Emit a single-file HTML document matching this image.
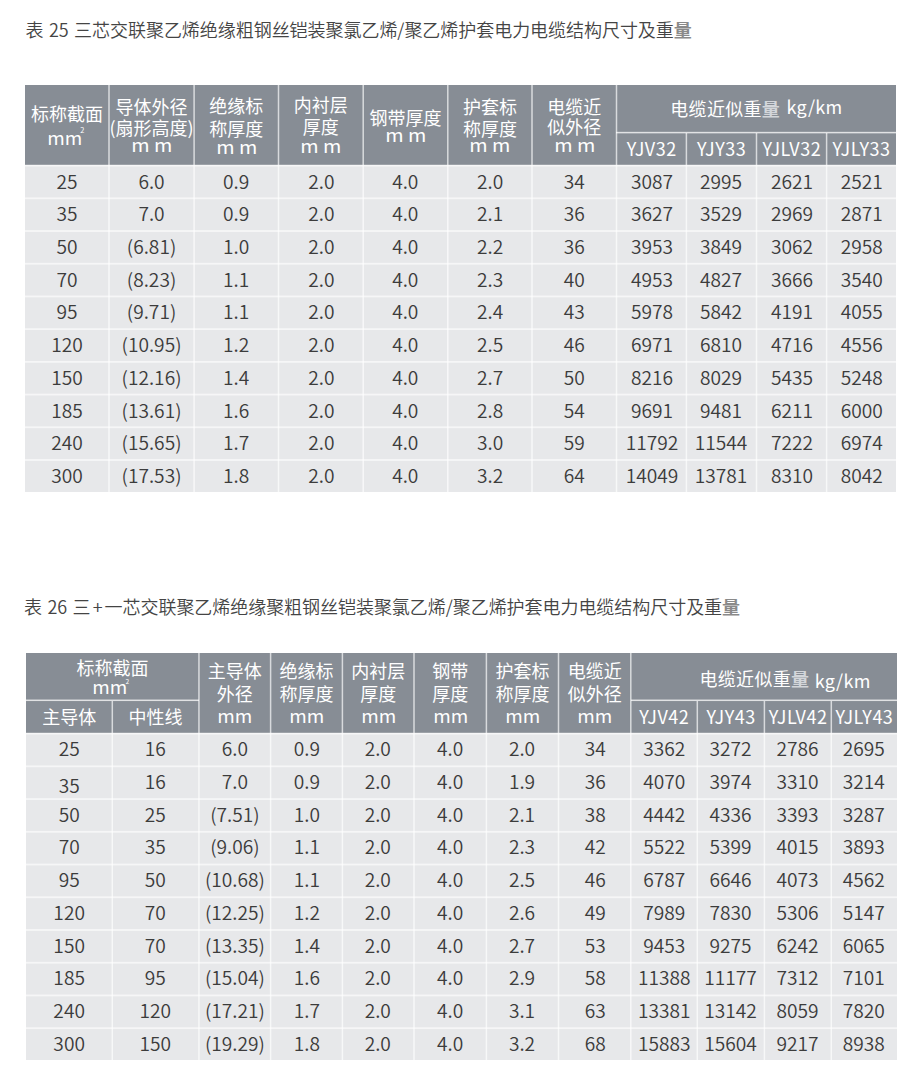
<!DOCTYPE html>
<html lang="zh-CN"><head><meta charset="utf-8"><title>电缆结构尺寸及重量</title>
<style>
html,body{margin:0;padding:0;background:#fff;}
body{width:920px;height:1085px;position:relative;overflow:hidden;font-family:"Noto Sans CJK SC", "Liberation Sans", sans-serif;}
.r{position:absolute;}
.t,.h{position:absolute;text-align:center;font-size:18px;line-height:26px;white-space:nowrap;}
.t{color:#3c3c3c;font-size:18.6px;font-weight:350;transform:scaleX(1.03);}
.h{color:#ffffff;}
.sx{display:inline-block;transform:scaleX(1.1);}
.sx2{display:inline-block;transform:scaleX(1.05);}
.lg{color:#d3d6da;font-weight:700;}
.sp{position:absolute;line-height:10px;color:#fff;white-space:nowrap;}
.title{position:absolute;font-size:18px;line-height:26px;color:#444;font-weight:350;white-space:nowrap;}
</style></head><body>
<div class="title" style="left:25.5px;top:16.2px;letter-spacing:-0.04px;word-spacing:1.5px">表 25 三芯交联聚乙烯绝缘粗钢丝铠装聚氯乙烯/聚乙烯护套电力电缆结构尺寸及重<span style="color:#8a8a8a;font-weight:700">量</span></div>
<div class="title" style="left:24px;top:592.9px;letter-spacing:-0.045px;word-spacing:1.5px">表 26 三<span style="margin:0 2.1px">+</span>一芯交联聚乙烯绝缘聚粗钢丝铠装聚氯乙烯/聚乙烯护套电力电缆结构尺寸及重<span style="color:#8a8a8a;font-weight:700">量</span></div>
<div class="r" style="left:25px;top:85px;width:871px;height:80px;background:#878d95"></div>
<div class="r" style="left:25px;top:165px;width:871px;height:327px;background:#e7e8ea"></div>
<div class="r" style="left:108px;top:85px;width:1px;height:407px;background:rgba(255,255,255,0.510)"></div>
<div class="r" style="left:109px;top:85px;width:1px;height:407px;background:rgba(255,255,255,0.510)"></div>
<div class="r" style="left:193px;top:85px;width:1px;height:407px;background:rgba(255,255,255,0.442)"></div>
<div class="r" style="left:194px;top:85px;width:1px;height:407px;background:rgba(255,255,255,0.578)"></div>
<div class="r" style="left:277px;top:85px;width:1px;height:407px;background:rgba(255,255,255,0.170)"></div>
<div class="r" style="left:278px;top:85px;width:1px;height:407px;background:rgba(255,255,255,0.680)"></div>
<div class="r" style="left:279px;top:85px;width:1px;height:407px;background:rgba(255,255,255,0.170)"></div>
<div class="r" style="left:362px;top:85px;width:1px;height:407px;background:rgba(255,255,255,0.374)"></div>
<div class="r" style="left:363px;top:85px;width:1px;height:407px;background:rgba(255,255,255,0.646)"></div>
<div class="r" style="left:447px;top:85px;width:1px;height:407px;background:rgba(255,255,255,0.646)"></div>
<div class="r" style="left:448px;top:85px;width:1px;height:407px;background:rgba(255,255,255,0.374)"></div>
<div class="r" style="left:531px;top:85px;width:1px;height:407px;background:rgba(255,255,255,0.510)"></div>
<div class="r" style="left:532px;top:85px;width:1px;height:407px;background:rgba(255,255,255,0.510)"></div>
<div class="r" style="left:615px;top:85px;width:1px;height:407px;background:rgba(255,255,255,0.170)"></div>
<div class="r" style="left:616px;top:85px;width:1px;height:407px;background:rgba(255,255,255,0.680)"></div>
<div class="r" style="left:617px;top:85px;width:1px;height:407px;background:rgba(255,255,255,0.170)"></div>
<div class="r" style="left:685px;top:133px;width:1px;height:359px;background:rgba(255,255,255,0.238)"></div>
<div class="r" style="left:686px;top:133px;width:1px;height:359px;background:rgba(255,255,255,0.680)"></div>
<div class="r" style="left:687px;top:133px;width:1px;height:359px;background:rgba(255,255,255,0.102)"></div>
<div class="r" style="left:755px;top:133px;width:1px;height:359px;background:rgba(255,255,255,0.170)"></div>
<div class="r" style="left:756px;top:133px;width:1px;height:359px;background:rgba(255,255,255,0.680)"></div>
<div class="r" style="left:757px;top:133px;width:1px;height:359px;background:rgba(255,255,255,0.170)"></div>
<div class="r" style="left:825px;top:133px;width:1px;height:359px;background:rgba(255,255,255,0.102)"></div>
<div class="r" style="left:826px;top:133px;width:1px;height:359px;background:rgba(255,255,255,0.680)"></div>
<div class="r" style="left:827px;top:133px;width:1px;height:359px;background:rgba(255,255,255,0.238)"></div>
<div class="r" style="left:616px;top:131px;width:280px;height:1px;background:rgba(255,255,255,0.113)"></div>
<div class="r" style="left:616px;top:132px;width:280px;height:1px;background:rgba(255,255,255,0.750)"></div>
<div class="r" style="left:616px;top:133px;width:280px;height:1px;background:rgba(255,255,255,0.262)"></div>
<div class="r" style="left:25px;top:164px;width:871px;height:1px;background:rgba(255,255,255,0.186)"></div>
<div class="r" style="left:25px;top:165px;width:871px;height:1px;background:rgba(255,255,255,0.620)"></div>
<div class="r" style="left:25px;top:166px;width:871px;height:1px;background:rgba(255,255,255,0.310)"></div>
<div class="r" style="left:25px;top:197px;width:871px;height:1px;background:rgba(255,255,255,0.366)"></div>
<div class="r" style="left:25px;top:198px;width:871px;height:1px;background:rgba(255,255,255,0.620)"></div>
<div class="r" style="left:25px;top:199px;width:871px;height:1px;background:rgba(255,255,255,0.130)"></div>
<div class="r" style="left:25px;top:230px;width:871px;height:1px;background:rgba(255,255,255,0.546)"></div>
<div class="r" style="left:25px;top:231px;width:871px;height:1px;background:rgba(255,255,255,0.570)"></div>
<div class="r" style="left:25px;top:262px;width:871px;height:1px;background:rgba(255,255,255,0.105)"></div>
<div class="r" style="left:25px;top:263px;width:871px;height:1px;background:rgba(255,255,255,0.620)"></div>
<div class="r" style="left:25px;top:264px;width:871px;height:1px;background:rgba(255,255,255,0.391)"></div>
<div class="r" style="left:25px;top:295px;width:871px;height:1px;background:rgba(255,255,255,0.285)"></div>
<div class="r" style="left:25px;top:296px;width:871px;height:1px;background:rgba(255,255,255,0.620)"></div>
<div class="r" style="left:25px;top:297px;width:871px;height:1px;background:rgba(255,255,255,0.211)"></div>
<div class="r" style="left:25px;top:328px;width:871px;height:1px;background:rgba(255,255,255,0.465)"></div>
<div class="r" style="left:25px;top:329px;width:871px;height:1px;background:rgba(255,255,255,0.620)"></div>
<div class="r" style="left:25px;top:330px;width:871px;height:1px;background:rgba(255,255,255,0.031)"></div>
<div class="r" style="left:25px;top:361px;width:871px;height:1px;background:rgba(255,255,255,0.620)"></div>
<div class="r" style="left:25px;top:362px;width:871px;height:1px;background:rgba(255,255,255,0.471)"></div>
<div class="r" style="left:25px;top:393px;width:871px;height:1px;background:rgba(255,255,255,0.205)"></div>
<div class="r" style="left:25px;top:394px;width:871px;height:1px;background:rgba(255,255,255,0.620)"></div>
<div class="r" style="left:25px;top:395px;width:871px;height:1px;background:rgba(255,255,255,0.291)"></div>
<div class="r" style="left:25px;top:426px;width:871px;height:1px;background:rgba(255,255,255,0.384)"></div>
<div class="r" style="left:25px;top:427px;width:871px;height:1px;background:rgba(255,255,255,0.620)"></div>
<div class="r" style="left:25px;top:428px;width:871px;height:1px;background:rgba(255,255,255,0.112)"></div>
<div class="r" style="left:25px;top:459px;width:871px;height:1px;background:rgba(255,255,255,0.564)"></div>
<div class="r" style="left:25px;top:460px;width:871px;height:1px;background:rgba(255,255,255,0.552)"></div>
<div class="r" style="left:26px;top:653px;width:871px;height:80px;background:#878d95"></div>
<div class="r" style="left:26px;top:733px;width:871px;height:327px;background:#e7e8ea"></div>
<div class="r" style="left:111px;top:701px;width:1px;height:359px;background:rgba(255,255,255,0.306)"></div>
<div class="r" style="left:112px;top:701px;width:1px;height:359px;background:rgba(255,255,255,0.680)"></div>
<div class="r" style="left:113px;top:701px;width:1px;height:359px;background:rgba(255,255,255,0.034)"></div>
<div class="r" style="left:198px;top:653px;width:1px;height:407px;background:rgba(255,255,255,0.544)"></div>
<div class="r" style="left:199px;top:653px;width:1px;height:407px;background:rgba(255,255,255,0.476)"></div>
<div class="r" style="left:269px;top:653px;width:1px;height:407px;background:rgba(255,255,255,0.102)"></div>
<div class="r" style="left:270px;top:653px;width:1px;height:407px;background:rgba(255,255,255,0.680)"></div>
<div class="r" style="left:271px;top:653px;width:1px;height:407px;background:rgba(255,255,255,0.238)"></div>
<div class="r" style="left:341px;top:653px;width:1px;height:407px;background:rgba(255,255,255,0.238)"></div>
<div class="r" style="left:342px;top:653px;width:1px;height:407px;background:rgba(255,255,255,0.680)"></div>
<div class="r" style="left:343px;top:653px;width:1px;height:407px;background:rgba(255,255,255,0.102)"></div>
<div class="r" style="left:413px;top:653px;width:1px;height:407px;background:rgba(255,255,255,0.510)"></div>
<div class="r" style="left:414px;top:653px;width:1px;height:407px;background:rgba(255,255,255,0.510)"></div>
<div class="r" style="left:485px;top:653px;width:1px;height:407px;background:rgba(255,255,255,0.238)"></div>
<div class="r" style="left:486px;top:653px;width:1px;height:407px;background:rgba(255,255,255,0.680)"></div>
<div class="r" style="left:487px;top:653px;width:1px;height:407px;background:rgba(255,255,255,0.102)"></div>
<div class="r" style="left:557px;top:653px;width:1px;height:407px;background:rgba(255,255,255,0.170)"></div>
<div class="r" style="left:558px;top:653px;width:1px;height:407px;background:rgba(255,255,255,0.680)"></div>
<div class="r" style="left:559px;top:653px;width:1px;height:407px;background:rgba(255,255,255,0.170)"></div>
<div class="r" style="left:630px;top:653px;width:1px;height:407px;background:rgba(255,255,255,0.646)"></div>
<div class="r" style="left:631px;top:653px;width:1px;height:407px;background:rgba(255,255,255,0.374)"></div>
<div class="r" style="left:696px;top:701px;width:1px;height:359px;background:rgba(255,255,255,0.306)"></div>
<div class="r" style="left:697px;top:701px;width:1px;height:359px;background:rgba(255,255,255,0.680)"></div>
<div class="r" style="left:698px;top:701px;width:1px;height:359px;background:rgba(255,255,255,0.034)"></div>
<div class="r" style="left:763px;top:701px;width:1px;height:359px;background:rgba(255,255,255,0.238)"></div>
<div class="r" style="left:764px;top:701px;width:1px;height:359px;background:rgba(255,255,255,0.680)"></div>
<div class="r" style="left:765px;top:701px;width:1px;height:359px;background:rgba(255,255,255,0.102)"></div>
<div class="r" style="left:830px;top:701px;width:1px;height:359px;background:rgba(255,255,255,0.306)"></div>
<div class="r" style="left:831px;top:701px;width:1px;height:359px;background:rgba(255,255,255,0.680)"></div>
<div class="r" style="left:832px;top:701px;width:1px;height:359px;background:rgba(255,255,255,0.034)"></div>
<div class="r" style="left:26px;top:699px;width:173px;height:1px;background:rgba(255,255,255,0.338)"></div>
<div class="r" style="left:26px;top:700px;width:173px;height:1px;background:rgba(255,255,255,0.750)"></div>
<div class="r" style="left:26px;top:701px;width:173px;height:1px;background:rgba(255,255,255,0.037)"></div>
<div class="r" style="left:631px;top:699px;width:266px;height:1px;background:rgba(255,255,255,0.338)"></div>
<div class="r" style="left:631px;top:700px;width:266px;height:1px;background:rgba(255,255,255,0.750)"></div>
<div class="r" style="left:631px;top:701px;width:266px;height:1px;background:rgba(255,255,255,0.037)"></div>
<div class="r" style="left:26px;top:732px;width:871px;height:1px;background:rgba(255,255,255,0.186)"></div>
<div class="r" style="left:26px;top:733px;width:871px;height:1px;background:rgba(255,255,255,0.620)"></div>
<div class="r" style="left:26px;top:734px;width:871px;height:1px;background:rgba(255,255,255,0.310)"></div>
<div class="r" style="left:26px;top:765px;width:871px;height:1px;background:rgba(255,255,255,0.353)"></div>
<div class="r" style="left:26px;top:766px;width:871px;height:1px;background:rgba(255,255,255,0.620)"></div>
<div class="r" style="left:26px;top:767px;width:871px;height:1px;background:rgba(255,255,255,0.143)"></div>
<div class="r" style="left:26px;top:798px;width:871px;height:1px;background:rgba(255,255,255,0.521)"></div>
<div class="r" style="left:26px;top:799px;width:871px;height:1px;background:rgba(255,255,255,0.595)"></div>
<div class="r" style="left:26px;top:830px;width:871px;height:1px;background:rgba(255,255,255,0.068)"></div>
<div class="r" style="left:26px;top:831px;width:871px;height:1px;background:rgba(255,255,255,0.620)"></div>
<div class="r" style="left:26px;top:832px;width:871px;height:1px;background:rgba(255,255,255,0.428)"></div>
<div class="r" style="left:26px;top:863px;width:871px;height:1px;background:rgba(255,255,255,0.236)"></div>
<div class="r" style="left:26px;top:864px;width:871px;height:1px;background:rgba(255,255,255,0.620)"></div>
<div class="r" style="left:26px;top:865px;width:871px;height:1px;background:rgba(255,255,255,0.260)"></div>
<div class="r" style="left:26px;top:896px;width:871px;height:1px;background:rgba(255,255,255,0.403)"></div>
<div class="r" style="left:26px;top:897px;width:871px;height:1px;background:rgba(255,255,255,0.620)"></div>
<div class="r" style="left:26px;top:898px;width:871px;height:1px;background:rgba(255,255,255,0.093)"></div>
<div class="r" style="left:26px;top:929px;width:871px;height:1px;background:rgba(255,255,255,0.570)"></div>
<div class="r" style="left:26px;top:930px;width:871px;height:1px;background:rgba(255,255,255,0.546)"></div>
<div class="r" style="left:26px;top:961px;width:871px;height:1px;background:rgba(255,255,255,0.118)"></div>
<div class="r" style="left:26px;top:962px;width:871px;height:1px;background:rgba(255,255,255,0.620)"></div>
<div class="r" style="left:26px;top:963px;width:871px;height:1px;background:rgba(255,255,255,0.378)"></div>
<div class="r" style="left:26px;top:994px;width:871px;height:1px;background:rgba(255,255,255,0.285)"></div>
<div class="r" style="left:26px;top:995px;width:871px;height:1px;background:rgba(255,255,255,0.620)"></div>
<div class="r" style="left:26px;top:996px;width:871px;height:1px;background:rgba(255,255,255,0.211)"></div>
<div class="r" style="left:26px;top:1027px;width:871px;height:1px;background:rgba(255,255,255,0.453)"></div>
<div class="r" style="left:26px;top:1028px;width:871px;height:1px;background:rgba(255,255,255,0.620)"></div>
<div class="r" style="left:26px;top:1029px;width:871px;height:1px;background:rgba(255,255,255,0.043)"></div>
<div class="t" style="left:25.0px;top:167.6px;width:84.0px;">25</div>
<div class="t" style="left:109.0px;top:167.6px;width:85.1px;">6.0</div>
<div class="t" style="left:194.1px;top:167.6px;width:84.4px;">0.9</div>
<div class="t" style="left:278.5px;top:167.6px;width:84.7px;">2.0</div>
<div class="t" style="left:363.2px;top:167.6px;width:84.6px;">4.0</div>
<div class="t" style="left:447.8px;top:167.6px;width:84.2px;">2.0</div>
<div class="t" style="left:532.0px;top:167.6px;width:84.5px;">34</div>
<div class="t" style="left:616.5px;top:167.6px;width:69.9px;">3087</div>
<div class="t" style="left:686.4px;top:167.6px;width:70.1px;">2995</div>
<div class="t" style="left:756.5px;top:167.6px;width:70.1px;">2621</div>
<div class="t" style="left:826.6px;top:167.6px;width:69.4px;">2521</div>
<div class="t" style="left:25.0px;top:200.3px;width:84.0px;">35</div>
<div class="t" style="left:109.0px;top:200.3px;width:85.1px;">7.0</div>
<div class="t" style="left:194.1px;top:200.3px;width:84.4px;">0.9</div>
<div class="t" style="left:278.5px;top:200.3px;width:84.7px;">2.0</div>
<div class="t" style="left:363.2px;top:200.3px;width:84.6px;">4.0</div>
<div class="t" style="left:447.8px;top:200.3px;width:84.2px;">2.1</div>
<div class="t" style="left:532.0px;top:200.3px;width:84.5px;">36</div>
<div class="t" style="left:616.5px;top:200.3px;width:69.9px;">3627</div>
<div class="t" style="left:686.4px;top:200.3px;width:70.1px;">3529</div>
<div class="t" style="left:756.5px;top:200.3px;width:70.1px;">2969</div>
<div class="t" style="left:826.6px;top:200.3px;width:69.4px;">2871</div>
<div class="t" style="left:25.0px;top:233.0px;width:84.0px;">50</div>
<div class="t" style="left:109.0px;top:233.0px;width:85.1px;">(6.81)</div>
<div class="t" style="left:194.1px;top:233.0px;width:84.4px;">1.0</div>
<div class="t" style="left:278.5px;top:233.0px;width:84.7px;">2.0</div>
<div class="t" style="left:363.2px;top:233.0px;width:84.6px;">4.0</div>
<div class="t" style="left:447.8px;top:233.0px;width:84.2px;">2.2</div>
<div class="t" style="left:532.0px;top:233.0px;width:84.5px;">36</div>
<div class="t" style="left:616.5px;top:233.0px;width:69.9px;">3953</div>
<div class="t" style="left:686.4px;top:233.0px;width:70.1px;">3849</div>
<div class="t" style="left:756.5px;top:233.0px;width:70.1px;">3062</div>
<div class="t" style="left:826.6px;top:233.0px;width:69.4px;">2958</div>
<div class="t" style="left:25.0px;top:265.7px;width:84.0px;">70</div>
<div class="t" style="left:109.0px;top:265.7px;width:85.1px;">(8.23)</div>
<div class="t" style="left:194.1px;top:265.7px;width:84.4px;">1.1</div>
<div class="t" style="left:278.5px;top:265.7px;width:84.7px;">2.0</div>
<div class="t" style="left:363.2px;top:265.7px;width:84.6px;">4.0</div>
<div class="t" style="left:447.8px;top:265.7px;width:84.2px;">2.3</div>
<div class="t" style="left:532.0px;top:265.7px;width:84.5px;">40</div>
<div class="t" style="left:616.5px;top:265.7px;width:69.9px;">4953</div>
<div class="t" style="left:686.4px;top:265.7px;width:70.1px;">4827</div>
<div class="t" style="left:756.5px;top:265.7px;width:70.1px;">3666</div>
<div class="t" style="left:826.6px;top:265.7px;width:69.4px;">3540</div>
<div class="t" style="left:25.0px;top:298.4px;width:84.0px;">95</div>
<div class="t" style="left:109.0px;top:298.4px;width:85.1px;">(9.71)</div>
<div class="t" style="left:194.1px;top:298.4px;width:84.4px;">1.1</div>
<div class="t" style="left:278.5px;top:298.4px;width:84.7px;">2.0</div>
<div class="t" style="left:363.2px;top:298.4px;width:84.6px;">4.0</div>
<div class="t" style="left:447.8px;top:298.4px;width:84.2px;">2.4</div>
<div class="t" style="left:532.0px;top:298.4px;width:84.5px;">43</div>
<div class="t" style="left:616.5px;top:298.4px;width:69.9px;">5978</div>
<div class="t" style="left:686.4px;top:298.4px;width:70.1px;">5842</div>
<div class="t" style="left:756.5px;top:298.4px;width:70.1px;">4191</div>
<div class="t" style="left:826.6px;top:298.4px;width:69.4px;">4055</div>
<div class="t" style="left:25.0px;top:331.1px;width:84.0px;">120</div>
<div class="t" style="left:109.0px;top:331.1px;width:85.1px;">(10.95)</div>
<div class="t" style="left:194.1px;top:331.1px;width:84.4px;">1.2</div>
<div class="t" style="left:278.5px;top:331.1px;width:84.7px;">2.0</div>
<div class="t" style="left:363.2px;top:331.1px;width:84.6px;">4.0</div>
<div class="t" style="left:447.8px;top:331.1px;width:84.2px;">2.5</div>
<div class="t" style="left:532.0px;top:331.1px;width:84.5px;">46</div>
<div class="t" style="left:616.5px;top:331.1px;width:69.9px;">6971</div>
<div class="t" style="left:686.4px;top:331.1px;width:70.1px;">6810</div>
<div class="t" style="left:756.5px;top:331.1px;width:70.1px;">4716</div>
<div class="t" style="left:826.6px;top:331.1px;width:69.4px;">4556</div>
<div class="t" style="left:25.0px;top:363.9px;width:84.0px;">150</div>
<div class="t" style="left:109.0px;top:363.9px;width:85.1px;">(12.16)</div>
<div class="t" style="left:194.1px;top:363.9px;width:84.4px;">1.4</div>
<div class="t" style="left:278.5px;top:363.9px;width:84.7px;">2.0</div>
<div class="t" style="left:363.2px;top:363.9px;width:84.6px;">4.0</div>
<div class="t" style="left:447.8px;top:363.9px;width:84.2px;">2.7</div>
<div class="t" style="left:532.0px;top:363.9px;width:84.5px;">50</div>
<div class="t" style="left:616.5px;top:363.9px;width:69.9px;">8216</div>
<div class="t" style="left:686.4px;top:363.9px;width:70.1px;">8029</div>
<div class="t" style="left:756.5px;top:363.9px;width:70.1px;">5435</div>
<div class="t" style="left:826.6px;top:363.9px;width:69.4px;">5248</div>
<div class="t" style="left:25.0px;top:396.6px;width:84.0px;">185</div>
<div class="t" style="left:109.0px;top:396.6px;width:85.1px;">(13.61)</div>
<div class="t" style="left:194.1px;top:396.6px;width:84.4px;">1.6</div>
<div class="t" style="left:278.5px;top:396.6px;width:84.7px;">2.0</div>
<div class="t" style="left:363.2px;top:396.6px;width:84.6px;">4.0</div>
<div class="t" style="left:447.8px;top:396.6px;width:84.2px;">2.8</div>
<div class="t" style="left:532.0px;top:396.6px;width:84.5px;">54</div>
<div class="t" style="left:616.5px;top:396.6px;width:69.9px;">9691</div>
<div class="t" style="left:686.4px;top:396.6px;width:70.1px;">9481</div>
<div class="t" style="left:756.5px;top:396.6px;width:70.1px;">6211</div>
<div class="t" style="left:826.6px;top:396.6px;width:69.4px;">6000</div>
<div class="t" style="left:25.0px;top:429.3px;width:84.0px;">240</div>
<div class="t" style="left:109.0px;top:429.3px;width:85.1px;">(15.65)</div>
<div class="t" style="left:194.1px;top:429.3px;width:84.4px;">1.7</div>
<div class="t" style="left:278.5px;top:429.3px;width:84.7px;">2.0</div>
<div class="t" style="left:363.2px;top:429.3px;width:84.6px;">4.0</div>
<div class="t" style="left:447.8px;top:429.3px;width:84.2px;">3.0</div>
<div class="t" style="left:532.0px;top:429.3px;width:84.5px;">59</div>
<div class="t" style="left:616.5px;top:429.3px;width:69.9px;">11792</div>
<div class="t" style="left:686.4px;top:429.3px;width:70.1px;">11544</div>
<div class="t" style="left:756.5px;top:429.3px;width:70.1px;">7222</div>
<div class="t" style="left:826.6px;top:429.3px;width:69.4px;">6974</div>
<div class="t" style="left:25.0px;top:462.0px;width:84.0px;">300</div>
<div class="t" style="left:109.0px;top:462.0px;width:85.1px;">(17.53)</div>
<div class="t" style="left:194.1px;top:462.0px;width:84.4px;">1.8</div>
<div class="t" style="left:278.5px;top:462.0px;width:84.7px;">2.0</div>
<div class="t" style="left:363.2px;top:462.0px;width:84.6px;">4.0</div>
<div class="t" style="left:447.8px;top:462.0px;width:84.2px;">3.2</div>
<div class="t" style="left:532.0px;top:462.0px;width:84.5px;">64</div>
<div class="t" style="left:616.5px;top:462.0px;width:69.9px;">14049</div>
<div class="t" style="left:686.4px;top:462.0px;width:70.1px;">13781</div>
<div class="t" style="left:756.5px;top:462.0px;width:70.1px;">8310</div>
<div class="t" style="left:826.6px;top:462.0px;width:69.4px;">8042</div>
<div class="t" style="left:26.0px;top:735.2px;width:86.3px;">25</div>
<div class="t" style="left:112.3px;top:735.2px;width:86.6px;">16</div>
<div class="t" style="left:198.9px;top:735.2px;width:71.7px;">6.0</div>
<div class="t" style="left:270.6px;top:735.2px;width:71.8px;">0.9</div>
<div class="t" style="left:342.4px;top:735.2px;width:71.6px;">2.0</div>
<div class="t" style="left:414.0px;top:735.2px;width:72.4px;">4.0</div>
<div class="t" style="left:486.4px;top:735.2px;width:72.1px;">2.0</div>
<div class="t" style="left:558.5px;top:735.2px;width:72.3px;">34</div>
<div class="t" style="left:630.8px;top:735.2px;width:66.5px;">3362</div>
<div class="t" style="left:697.3px;top:735.2px;width:67.1px;">3272</div>
<div class="t" style="left:764.4px;top:735.2px;width:66.9px;">2786</div>
<div class="t" style="left:831.3px;top:735.2px;width:65.7px;">2695</div>
<div class="t" style="left:26.0px;top:771.8px;width:86.3px;">35</div>
<div class="t" style="left:112.3px;top:767.9px;width:86.6px;">16</div>
<div class="t" style="left:198.9px;top:767.9px;width:71.7px;">7.0</div>
<div class="t" style="left:270.6px;top:767.9px;width:71.8px;">0.9</div>
<div class="t" style="left:342.4px;top:767.9px;width:71.6px;">2.0</div>
<div class="t" style="left:414.0px;top:767.9px;width:72.4px;">4.0</div>
<div class="t" style="left:486.4px;top:767.9px;width:72.1px;">1.9</div>
<div class="t" style="left:558.5px;top:767.9px;width:72.3px;">36</div>
<div class="t" style="left:630.8px;top:767.9px;width:66.5px;">4070</div>
<div class="t" style="left:697.3px;top:767.9px;width:67.1px;">3974</div>
<div class="t" style="left:764.4px;top:767.9px;width:66.9px;">3310</div>
<div class="t" style="left:831.3px;top:767.9px;width:65.7px;">3214</div>
<div class="t" style="left:26.0px;top:800.7px;width:86.3px;">50</div>
<div class="t" style="left:112.3px;top:800.7px;width:86.6px;">25</div>
<div class="t" style="left:198.9px;top:800.7px;width:71.7px;">(7.51)</div>
<div class="t" style="left:270.6px;top:800.7px;width:71.8px;">1.0</div>
<div class="t" style="left:342.4px;top:800.7px;width:71.6px;">2.0</div>
<div class="t" style="left:414.0px;top:800.7px;width:72.4px;">4.0</div>
<div class="t" style="left:486.4px;top:800.7px;width:72.1px;">2.1</div>
<div class="t" style="left:558.5px;top:800.7px;width:72.3px;">38</div>
<div class="t" style="left:630.8px;top:800.7px;width:66.5px;">4442</div>
<div class="t" style="left:697.3px;top:800.7px;width:67.1px;">4336</div>
<div class="t" style="left:764.4px;top:800.7px;width:66.9px;">3393</div>
<div class="t" style="left:831.3px;top:800.7px;width:65.7px;">3287</div>
<div class="t" style="left:26.0px;top:833.4px;width:86.3px;">70</div>
<div class="t" style="left:112.3px;top:833.4px;width:86.6px;">35</div>
<div class="t" style="left:198.9px;top:833.4px;width:71.7px;">(9.06)</div>
<div class="t" style="left:270.6px;top:833.4px;width:71.8px;">1.1</div>
<div class="t" style="left:342.4px;top:833.4px;width:71.6px;">2.0</div>
<div class="t" style="left:414.0px;top:833.4px;width:72.4px;">4.0</div>
<div class="t" style="left:486.4px;top:833.4px;width:72.1px;">2.3</div>
<div class="t" style="left:558.5px;top:833.4px;width:72.3px;">42</div>
<div class="t" style="left:630.8px;top:833.4px;width:66.5px;">5522</div>
<div class="t" style="left:697.3px;top:833.4px;width:67.1px;">5399</div>
<div class="t" style="left:764.4px;top:833.4px;width:66.9px;">4015</div>
<div class="t" style="left:831.3px;top:833.4px;width:65.7px;">3893</div>
<div class="t" style="left:26.0px;top:866.1px;width:86.3px;">95</div>
<div class="t" style="left:112.3px;top:866.1px;width:86.6px;">50</div>
<div class="t" style="left:198.9px;top:866.1px;width:71.7px;">(10.68)</div>
<div class="t" style="left:270.6px;top:866.1px;width:71.8px;">1.1</div>
<div class="t" style="left:342.4px;top:866.1px;width:71.6px;">2.0</div>
<div class="t" style="left:414.0px;top:866.1px;width:72.4px;">4.0</div>
<div class="t" style="left:486.4px;top:866.1px;width:72.1px;">2.5</div>
<div class="t" style="left:558.5px;top:866.1px;width:72.3px;">46</div>
<div class="t" style="left:630.8px;top:866.1px;width:66.5px;">6787</div>
<div class="t" style="left:697.3px;top:866.1px;width:67.1px;">6646</div>
<div class="t" style="left:764.4px;top:866.1px;width:66.9px;">4073</div>
<div class="t" style="left:831.3px;top:866.1px;width:65.7px;">4562</div>
<div class="t" style="left:26.0px;top:898.9px;width:86.3px;">120</div>
<div class="t" style="left:112.3px;top:898.9px;width:86.6px;">70</div>
<div class="t" style="left:198.9px;top:898.9px;width:71.7px;">(12.25)</div>
<div class="t" style="left:270.6px;top:898.9px;width:71.8px;">1.2</div>
<div class="t" style="left:342.4px;top:898.9px;width:71.6px;">2.0</div>
<div class="t" style="left:414.0px;top:898.9px;width:72.4px;">4.0</div>
<div class="t" style="left:486.4px;top:898.9px;width:72.1px;">2.6</div>
<div class="t" style="left:558.5px;top:898.9px;width:72.3px;">49</div>
<div class="t" style="left:630.8px;top:898.9px;width:66.5px;">7989</div>
<div class="t" style="left:697.3px;top:898.9px;width:67.1px;">7830</div>
<div class="t" style="left:764.4px;top:898.9px;width:66.9px;">5306</div>
<div class="t" style="left:831.3px;top:898.9px;width:65.7px;">5147</div>
<div class="t" style="left:26.0px;top:931.6px;width:86.3px;">150</div>
<div class="t" style="left:112.3px;top:931.6px;width:86.6px;">70</div>
<div class="t" style="left:198.9px;top:931.6px;width:71.7px;">(13.35)</div>
<div class="t" style="left:270.6px;top:931.6px;width:71.8px;">1.4</div>
<div class="t" style="left:342.4px;top:931.6px;width:71.6px;">2.0</div>
<div class="t" style="left:414.0px;top:931.6px;width:72.4px;">4.0</div>
<div class="t" style="left:486.4px;top:931.6px;width:72.1px;">2.7</div>
<div class="t" style="left:558.5px;top:931.6px;width:72.3px;">53</div>
<div class="t" style="left:630.8px;top:931.6px;width:66.5px;">9453</div>
<div class="t" style="left:697.3px;top:931.6px;width:67.1px;">9275</div>
<div class="t" style="left:764.4px;top:931.6px;width:66.9px;">6242</div>
<div class="t" style="left:831.3px;top:931.6px;width:65.7px;">6065</div>
<div class="t" style="left:26.0px;top:964.3px;width:86.3px;">185</div>
<div class="t" style="left:112.3px;top:964.3px;width:86.6px;">95</div>
<div class="t" style="left:198.9px;top:964.3px;width:71.7px;">(15.04)</div>
<div class="t" style="left:270.6px;top:964.3px;width:71.8px;">1.6</div>
<div class="t" style="left:342.4px;top:964.3px;width:71.6px;">2.0</div>
<div class="t" style="left:414.0px;top:964.3px;width:72.4px;">4.0</div>
<div class="t" style="left:486.4px;top:964.3px;width:72.1px;">2.9</div>
<div class="t" style="left:558.5px;top:964.3px;width:72.3px;">58</div>
<div class="t" style="left:630.8px;top:964.3px;width:66.5px;">11388</div>
<div class="t" style="left:697.3px;top:964.3px;width:67.1px;">11177</div>
<div class="t" style="left:764.4px;top:964.3px;width:66.9px;">7312</div>
<div class="t" style="left:831.3px;top:964.3px;width:65.7px;">7101</div>
<div class="t" style="left:26.0px;top:997.0px;width:86.3px;">240</div>
<div class="t" style="left:112.3px;top:997.0px;width:86.6px;">120</div>
<div class="t" style="left:198.9px;top:997.0px;width:71.7px;">(17.21)</div>
<div class="t" style="left:270.6px;top:997.0px;width:71.8px;">1.7</div>
<div class="t" style="left:342.4px;top:997.0px;width:71.6px;">2.0</div>
<div class="t" style="left:414.0px;top:997.0px;width:72.4px;">4.0</div>
<div class="t" style="left:486.4px;top:997.0px;width:72.1px;">3.1</div>
<div class="t" style="left:558.5px;top:997.0px;width:72.3px;">63</div>
<div class="t" style="left:630.8px;top:997.0px;width:66.5px;">13381</div>
<div class="t" style="left:697.3px;top:997.0px;width:67.1px;">13142</div>
<div class="t" style="left:764.4px;top:997.0px;width:66.9px;">8059</div>
<div class="t" style="left:831.3px;top:997.0px;width:65.7px;">7820</div>
<div class="t" style="left:26.0px;top:1029.8px;width:86.3px;">300</div>
<div class="t" style="left:112.3px;top:1029.8px;width:86.6px;">150</div>
<div class="t" style="left:198.9px;top:1029.8px;width:71.7px;">(19.29)</div>
<div class="t" style="left:270.6px;top:1029.8px;width:71.8px;">1.8</div>
<div class="t" style="left:342.4px;top:1029.8px;width:71.6px;">2.0</div>
<div class="t" style="left:414.0px;top:1029.8px;width:72.4px;">4.0</div>
<div class="t" style="left:486.4px;top:1029.8px;width:72.1px;">3.2</div>
<div class="t" style="left:558.5px;top:1029.8px;width:72.3px;">68</div>
<div class="t" style="left:630.8px;top:1029.8px;width:66.5px;">15883</div>
<div class="t" style="left:697.3px;top:1029.8px;width:67.1px;">15604</div>
<div class="t" style="left:764.4px;top:1029.8px;width:66.9px;">9217</div>
<div class="t" style="left:831.3px;top:1029.8px;width:65.7px;">8938</div>
<div class="h" style="left:25.0px;top:99.5px;width:84.0px;">标称截面</div>
<div class="h" style="left:34.8px;top:124.0px;width:60.0px;"><span class="sx2">mm</span></div>
<div class="sp" style="left:80.3px;top:124.6px;font-size:7.4px">2</div>
<div class="h" style="left:109.0px;top:92.6px;width:85.1px;">导体外径</div>
<div class="h" style="left:109.0px;top:114.1px;width:85.1px;">(扇形高度)</div>
<div class="h" style="left:109.0px;top:131.4px;width:85.1px;"><span class="sx">m m</span></div>
<div class="h" style="left:194.1px;top:91.5px;width:84.4px;">绝缘标</div>
<div class="h" style="left:194.1px;top:114.5px;width:84.4px;">称厚度</div>
<div class="h" style="left:194.1px;top:132.5px;width:84.4px;"><span class="sx">m m</span></div>
<div class="h" style="left:278.5px;top:91.4px;width:84.7px;">内衬层</div>
<div class="h" style="left:278.5px;top:112.5px;width:84.7px;">厚度</div>
<div class="h" style="left:278.5px;top:132.4px;width:84.7px;"><span class="sx">m m</span></div>
<div class="h" style="left:363.2px;top:103.5px;width:84.6px;">钢带厚度</div>
<div class="h" style="left:363.2px;top:121.0px;width:84.6px;"><span class="sx">m m</span></div>
<div class="h" style="left:447.8px;top:93.2px;width:84.2px;">护套标</div>
<div class="h" style="left:447.8px;top:115.0px;width:84.2px;">称厚度</div>
<div class="h" style="left:447.8px;top:131.2px;width:84.2px;"><span class="sx">m m</span></div>
<div class="h" style="left:532.0px;top:93.0px;width:84.5px;">电缆近</div>
<div class="h" style="left:532.0px;top:112.8px;width:84.5px;">似外径</div>
<div class="h" style="left:532.0px;top:131.2px;width:84.5px;"><span class="sx">m m</span></div>
<div class="h" style="left:616.5px;top:95.4px;width:279.5px;word-spacing:2px;letter-spacing:0.3px;text-indent:0.3px">电缆近似重<span class="lg">量</span> <span style="position:relative;top:-2.2px">kg/km</span></div>
<div class="h" style="left:616.5px;top:134.6px;width:69.9px;letter-spacing:0.5px;text-indent:0.5px">YJV32</div>
<div class="h" style="left:686.4px;top:134.6px;width:70.1px;letter-spacing:0.5px;text-indent:0.5px">YJY33</div>
<div class="h" style="left:756.5px;top:134.6px;width:70.1px;letter-spacing:0.5px;text-indent:0.5px">YJLV32</div>
<div class="h" style="left:826.6px;top:134.6px;width:69.4px;letter-spacing:0.5px;text-indent:0.5px">YJLY33</div>
<div class="h" style="left:26.0px;top:653.6px;width:172.9px;">标称截面</div>
<div class="h" style="left:79.8px;top:673.4px;width:60.0px;"><span class="sx2">mm</span></div>
<div class="sp" style="left:125.4px;top:676.4px;font-size:6.6px">2</div>
<div class="h" style="left:26.0px;top:702.8px;width:86.3px;">主导体</div>
<div class="h" style="left:112.3px;top:702.8px;width:86.6px;">中性线</div>
<div class="h" style="left:198.9px;top:657.2px;width:71.7px;">主导体</div>
<div class="h" style="left:198.9px;top:680.2px;width:71.7px;">外径</div>
<div class="h" style="left:198.9px;top:702.1px;width:71.7px;"><span class="sx2">mm</span></div>
<div class="h" style="left:270.6px;top:657.2px;width:71.8px;">绝缘标</div>
<div class="h" style="left:270.6px;top:680.2px;width:71.8px;">称厚度</div>
<div class="h" style="left:270.6px;top:702.1px;width:71.8px;"><span class="sx2">mm</span></div>
<div class="h" style="left:342.4px;top:657.2px;width:71.6px;">内衬层</div>
<div class="h" style="left:342.4px;top:680.2px;width:71.6px;">厚度</div>
<div class="h" style="left:342.4px;top:702.1px;width:71.6px;"><span class="sx2">mm</span></div>
<div class="h" style="left:414.0px;top:657.2px;width:72.4px;">钢带</div>
<div class="h" style="left:414.0px;top:680.2px;width:72.4px;">厚度</div>
<div class="h" style="left:414.0px;top:702.1px;width:72.4px;"><span class="sx2">mm</span></div>
<div class="h" style="left:486.4px;top:657.2px;width:72.1px;">护套标</div>
<div class="h" style="left:486.4px;top:680.2px;width:72.1px;">称厚度</div>
<div class="h" style="left:486.4px;top:702.1px;width:72.1px;"><span class="sx2">mm</span></div>
<div class="h" style="left:558.5px;top:657.2px;width:72.3px;">电缆近</div>
<div class="h" style="left:558.5px;top:680.2px;width:72.3px;">似外径</div>
<div class="h" style="left:558.5px;top:702.1px;width:72.3px;"><span class="sx2">mm</span></div>
<div class="h" style="left:699.5px;top:665.3px;width:180.5px;text-align:left;word-spacing:1px;letter-spacing:0.3px">电缆近似重<span class="lg">量</span> <span style="position:relative;top:1.4px">kg/km</span></div>
<div class="h" style="left:630.8px;top:702.6px;width:66.5px;letter-spacing:0.5px;text-indent:0.5px">YJV42</div>
<div class="h" style="left:697.3px;top:702.6px;width:67.1px;letter-spacing:0.5px;text-indent:0.5px">YJY43</div>
<div class="h" style="left:764.4px;top:702.6px;width:66.9px;letter-spacing:0.5px;text-indent:0.5px">YJLV42</div>
<div class="h" style="left:831.3px;top:702.6px;width:65.7px;letter-spacing:0.5px;text-indent:0.5px">YJLY43</div>
</body></html>
